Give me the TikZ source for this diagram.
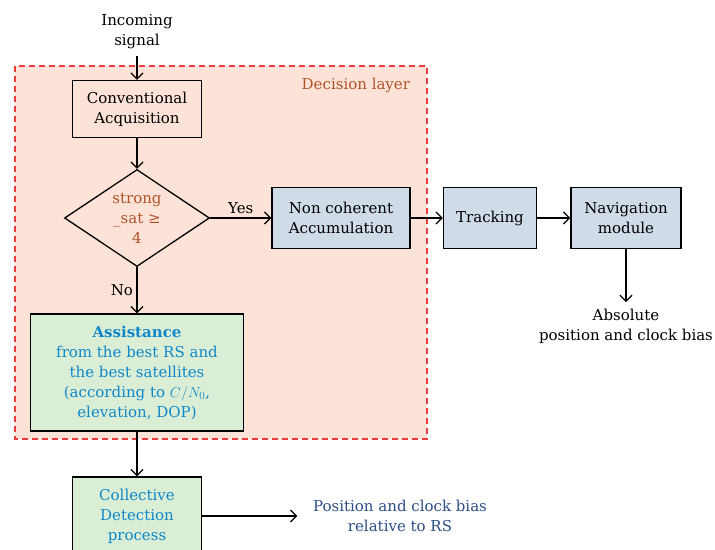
\documentclass[tikz,border=0pt]{standalone}
\usepackage{fontspec}
\setmainfont{DejaVu Serif}
\usetikzlibrary{shapes.geometric,positioning,arrows.meta}

\definecolor{layerfill}{HTML}{FDE3D7}
\definecolor{layerline}{HTML}{EE3B3B}
\definecolor{layertext}{HTML}{B0522A}
\definecolor{bluefill}{HTML}{CFDCE7}
\definecolor{greenfill}{HTML}{DAEED6}
\definecolor{assisttext}{HTML}{1088CA}
\definecolor{postext}{HTML}{2B4E86}

\begin{document}
\begin{tikzpicture}[x=1pt,y=-1pt,node distance=100pt,on grid,auto,
   font=\fontsize{15}{20}\selectfont,line width=1.3pt,
   >={Straight Barb[length=6pt,width=12pt]},
   block/.style={draw,align=center,minimum height=61pt},
   bluebox/.style={block,fill=bluefill},
   greenbox/.style={block,fill=greenfill,text=assisttext},
   decision/.style={diamond,draw,align=center,aspect=1.5,inner sep=0pt,
     minimum width=145pt,minimum height=97pt,text=layertext},
   plain/.style={align=center,inner sep=6pt}]
   \useasboundingbox (0,0) rectangle (715,549);
   % decision layer
   \draw[layerline,fill=layerfill,dash pattern=on 6pt off 4pt,line width=1.3pt] (15,66) rectangle (427,439);
   \node[text=layertext,anchor=east] (lbl) at (414,85) {Decision layer};

   \node[block,minimum width=129pt,minimum height=57pt] (acq) at (137,109) {Conventional\\Acquisition};
   \node[plain] (inc) [above=77pt of acq] {Incoming\\signal};
   \node[decision] (sat) [below=109pt of acq] {strong\\\_sat ≥\\4};
   \node[bluebox,minimum width=138pt] (nca) [right=204pt of sat] {Non coherent\\Accumulation};
   \node[bluebox,minimum width=93pt] (trk) [right=149pt of nca] {Tracking};
   \node[bluebox,minimum width=110pt] (nav) [right=136pt of trk] {Navigation\\module};
   \node[plain] (abs) [below=108pt of nav] {Absolute\\position and clock bias};
   \node[greenbox,minimum width=213pt,minimum height=117pt] (ast) [below=154.5pt of sat]
      {\textbf{Assistance}\\from the best RS and\\the best satellites\\(according to $C/N_0$,\\elevation, DOP)};
   \node[greenbox,minimum width=129pt,minimum height=78pt] (cdp) [below=143.5pt of ast] {Collective\\Detection\\process};
   \node[plain,text=postext,inner xsep=15pt] (pos) [right=263pt of cdp] {Position and clock bias\\relative to RS};

   \path[->]
   (inc) edge (acq)
   (acq) edge (sat)
   (sat) edge node {Yes} (nca)
   (nca) edge (trk)
   (trk) edge (nav)
   (nav) edge (abs)
   (sat) edge node[left] {No} (ast)
   (ast) edge (cdp)
   (cdp) edge (pos);
\end{tikzpicture}
\end{document}
